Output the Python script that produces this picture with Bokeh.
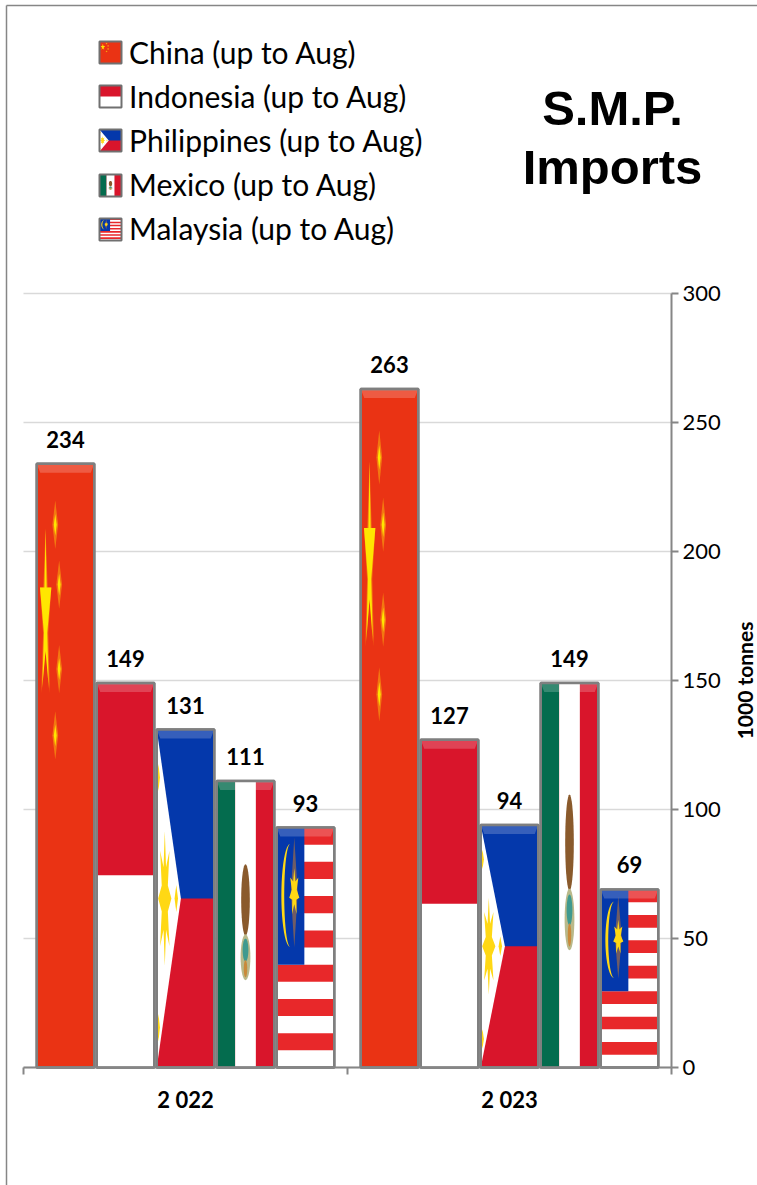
import math
from bokeh.plotting import figure
from bokeh.models import (ColumnDataSource, FixedTicker, Legend, LegendItem, LinearAxis,
                          PolyAnnotation, Label, Range1d)
from bokeh.core.properties import value
from bokeh.embed import file_html
from bokeh.resources import INLINE

# ---- data -------------------------------------------------------------
years = ["2 022", "2 023"]
countries = ["China", "Indonesia", "Philippines", "Mexico", "Malaysia"]
china = [234, 263]
indonesia = [149, 127]
philippines = [131, 94]
mexico = [111, 149]
malaysia = [93, 69]
series = [china, indonesia, philippines, mexico, malaysia]
y_ticks = [0, 50, 100, 150, 200, 250, 300]
title_lines = ["S.M.P.", "Imports"]
unit_label = "1000 tonnes"

# ---- flag drawing in unit coordinates (u across, v up) -------------------
RED = "#d9152b"; WHITE = "#ffffff"; BLUE = "#0438ab"; GREEN = "#046c4e"
CN = "#ea3314"; YEL = "#ffe600"; ORG = "#f58a10"; MYR = "#e8282a"; GOLD = "#ffd814"

def box(u0, v0, u1, v1):
    return [(u0, v0), (u1, v0), (u1, v1), (u0, v1)]

def diamond(u, v, ru, rv):
    return [(u, v + rv), (u + ru, v), (u, v - rv), (u - ru, v)]

def spiky(u, v, ru, rv, n, inner):
    pts = []
    for k in range(2 * n):
        a = math.pi * k / n + math.pi / 2
        r = 1 if k % 2 == 0 else inner
        pts.append((u + ru * r * math.cos(a), v + rv * r * math.sin(a)))
    return pts

def oval(u, v, ru, rv):
    return spiky(u, v, ru, rv, 18, 1)

def crescent(uc, vc, ru_out, ru_in, rv):
    a = [math.pi / 2 + math.pi * k / 24 for k in range(25)]
    out = [(uc + ru_out * math.cos(t), vc + rv * math.sin(t)) for t in a]
    inn = [(uc + ru_in * math.cos(t), vc + rv * math.sin(t)) for t in reversed(a)]
    return out + inn

china_big = [(.153, .893), (.172, .795), (.254, .795), (.182, .72), (.21, .628), (.153, .69),
             (.095, .628), (.125, .72), (.056, .795), (.134, .795)]
parts = {
    "China": [(ORG, .75, [(.153, .893), (.19, .795), (.254, .795), (.2, .72), (.23, .62), (.153, .69),
                          (.08, .62), (.11, .72), (.056, .795), (.115, .795)]),
              (YEL, 1, china_big)]
             + [(c, a, diamond(u, v, ru, rv))
                for (u, v) in [(.322, .899), (.39, .80), (.39, .66), (.322, .55)]
                for (c, a, ru, rv) in [(ORG, .8, .05, .04), (YEL, 1, .025, .018)]],
    "Indonesia": [(WHITE, 1, box(0, 0, 1, .5))],
    "Philippines": [(BLUE, 1, box(0, .5, 1, 1)),
                    (WHITE, 1, [(0, 0), (0, 1), (.42, .5)]),
                    (GOLD, 1, spiky(.14, .5, .115, .2, 8, .5)),
                    (GOLD, 1, diamond(.34, .5, .03, .04)),
                    (GOLD, 1, diamond(.03, .858, .025, .04)),
                    (GOLD, 1, diamond(.03, .118, .025, .04))],
    "Mexico": [(GREEN, 1, box(0, 0, .32, 1)),
               (WHITE, 1, box(.32, 0, .68, 1)),
               ("#8a5a2c", 1, oval(.5, .585, .075, .125)),
               ("#b9b98a", 1, oval(.5, .385, .085, .08)),
               ("#3f9a8f", 1, oval(.5, .41, .05, .04)),
               ("#c98a3a", 1, oval(.5, .345, .03, .03))],
    "Malaysia": [(MYR, 1, box(0, 1 - (2 * k + 1) / 14, 1, 1 - 2 * k / 14)) for k in range(7)]
                + [(BLUE, 1, box(0, 6 / 14, .48, 1)),
                   (GOLD, 1, crescent(.235, .717, .155, .105, .215)),
                   (ORG, .45, diamond(.305, .73, .06, .23)),
                   (GOLD, 1, spiky(.305, .73, .09, .1, 7, .5))],
}
base_colors = [CN, RED, RED, RED, WHITE]

# ---- figure: the frame is the whole page, so that legend and title can lie in it --------
W, H = 757, 1185
PX_X0, PX_X1, PX_Y0, PX_Y1 = 23, 671, 1067, 293   # where x 0..2 and y 0..300 lie on the page
GROUP_PX = (PX_X1 - PX_X0) / 2
UNIT_PX = (PX_Y0 - PX_Y1) / 300

def px_x(sx):
    return (sx - PX_X0) / GROUP_PX

def px_y(sy):
    return (PX_Y0 - sy) / UNIT_PX

p = figure(width=W, height=H, output_backend="svg", toolbar_location=None,
           x_range=Range1d(px_x(0), px_x(W)), y_range=Range1d(px_y(H), px_y(0)),
           x_axis_location=None, y_axis_location=None, min_border=0, outline_line_color=None,
           background_fill_color="white", border_fill_color="white")
p.grid.visible = False
AX = "#868686"
yaxis = LinearAxis(fixed_location=2, bounds=(0, 300), ticker=FixedTicker(ticks=y_ticks),
                   major_label_text_font="Lato", major_label_text_font_size="22px",
                   major_label_text_color="black", major_label_standoff=4, axis_line_color=AX, axis_line_width=2,
                   major_tick_line_color=AX, major_tick_line_width=2, major_tick_in=0, major_tick_out=7,
                   minor_tick_line_color=None)
p.add_layout(yaxis, "right")
xaxis = LinearAxis(fixed_location=0, bounds=(0, 2), ticker=FixedTicker(ticks=[.5, 1.5], minor_ticks=[0, 1, 2]),
                   major_label_overrides={.5: years[0], 1.5: years[1]},
                   major_label_text_font="Lato", major_label_text_font_size="22px",
                   major_label_text_font_style="bold", major_label_text_color="black", major_label_standoff=11,
                   axis_line_color=AX, axis_line_width=2, major_tick_line_color=None, minor_tick_line_color=AX,
                   minor_tick_line_width=2, minor_tick_in=0, minor_tick_out=7)
p.add_layout(xaxis, "below")
p.segment(x0=[0] * len(y_ticks), x1=[2] * len(y_ticks), y0=y_ticks, y1=y_ticks, line_color="#d9d9d9",
          line_width=1.5, level="underlay")
p.add_layout(Label(x=px_x(744), y=150, text=unit_label, angle=math.pi / 2, text_font="Lato", text_font_size="21px",
                   text_font_style="bold", text_color="black", text_align="center", text_baseline="middle"))

STEP = 60 / GROUP_PX
WIDTH = 57.5 / GROUP_PX
EDGE = "#7f7f7f"
keys = []
pxs, pys, pcs, pas = [], [], [], []
lx, ly, lt = [], [], []
for i, name in enumerate(countries):
    centers = [g + .5 + (i - 2) * STEP for g in range(len(years))]
    src = ColumnDataSource(dict(x=centers, top=series[i]))
    p.vbar(x="x", top="top", width=WIDTH, source=src, fill_color=base_colors[i], line_color=EDGE, line_width=2.5)
    # see-through twin: the legend item needs a renderer, and its swatch is the small flag beneath it
    keys.append(p.vbar(x="x", top="top", width=WIDTH, source=src, fill_alpha=0, line_alpha=0))
    for cx, val in zip(centers, series[i]):
        x0 = cx - WIDTH / 2
        for color, alpha, poly in parts[name]:
            pxs.append([x0 + u * WIDTH for u, v in poly])
            pys.append([v * val for u, v in poly])
            pcs.append(color); pas.append(alpha)
        lx.append(cx); ly.append(val); lt.append(str(val))

# flag details, bevel at the top of the bars
p.patches("xs", "ys", source=ColumnDataSource(dict(xs=pxs, ys=pys, c=pcs, a=pas)), fill_color="c",
          fill_alpha="a", line_color=None)
bx, by = [], []
ins = 3.5 / GROUP_PX
for cx, t in zip(lx, ly):
    bx.append([cx - WIDTH / 2, cx + WIDTH / 2, cx + WIDTH / 2 - ins, cx - WIDTH / 2 + ins])
    by.append([t, t, t - 9 / UNIT_PX, t - 9 / UNIT_PX])
p.patches(bx, by, fill_color="white", fill_alpha=.2, line_color=None)
p.vbar(x=lx, top=ly, width=WIDTH, fill_alpha=0, line_color=EDGE, line_width=2.5)
p.text(lx, ly, text=lt, text_font=value("Lato"), text_font_size="22px", text_font_style="bold",
       text_align="center", text_baseline="bottom", text_color="black", y_offset=-16)

# ---- legend -----------------------------------------------------------
legend = Legend(items=[LegendItem(label=f"{n} (up to Aug)", renderers=[r]) for n, r in zip(countries, keys)],
                location=(97, H - 246), orientation="vertical", background_fill_alpha=0,
                border_line_color=None, glyph_width=26, glyph_height=26, label_standoff=6, spacing=8, padding=0,
                margin=0, label_text_font="Lato", label_text_font_size="30px", label_text_color="black")
p.add_layout(legend, "center")

SW = 22
tops = [41, 85, 129, 174, 218]
for name, base_color, top in zip(countries, base_colors, tops):
    for color, alpha, poly in [(base_color, 1, box(0, 0, 1, 1))] + parts[name]:
        p.add_layout(PolyAnnotation(xs=[px_x(99 + u * SW) for u, v in poly],
                                    ys=[px_y(top + (1 - v) * SW) for u, v in poly],
                                    fill_color=color, fill_alpha=alpha, line_alpha=0, level="overlay"))
    p.add_layout(PolyAnnotation(xs=[px_x(s) for s in (99, 121, 121, 99)],
                                ys=[px_y(s) for s in (top, top, top + SW, top + SW)],
                                fill_alpha=0, line_color="#707070", line_alpha=1, line_width=2, level="overlay"))

# ---- title ------------------------------------------------------------
for text, base in zip(title_lines, [107, 166]):
    p.add_layout(Label(x=px_x(612), y=px_y(base), text=text, text_font="Liberation Sans", text_font_size="49px",
                       text_font_style="bold", text_align="center", text_baseline="alphabetic", text_color="black"))

# page border
p.line([px_x(6), px_x(6)], [px_y(5), px_y(H)], line_color=AX, line_width=1.5)
p.line([px_x(6), px_x(W)], [px_y(5), px_y(5)], line_color=AX, line_width=1.5)

open("out.html", "w").write(file_html(p, INLINE))
